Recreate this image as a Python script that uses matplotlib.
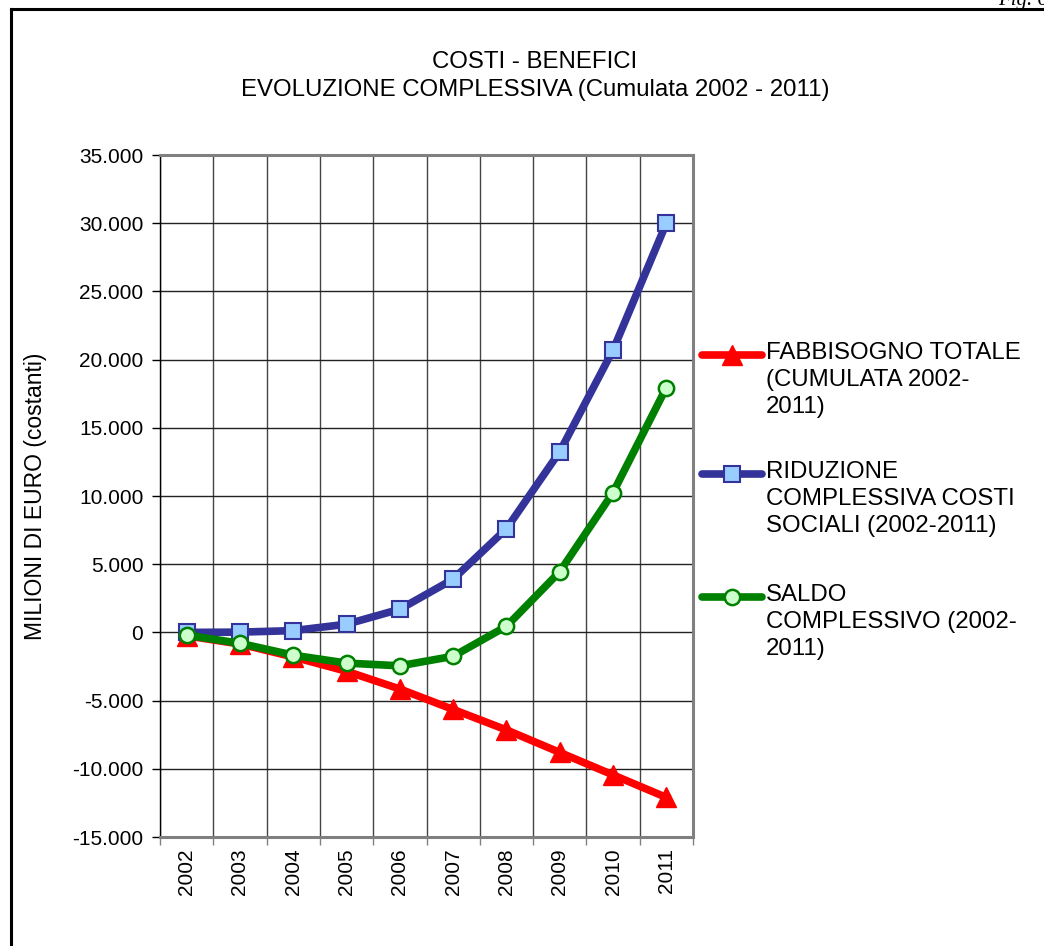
import numpy as np
import matplotlib
matplotlib.use("Agg")
import matplotlib.pyplot as plt
from matplotlib.lines import Line2D

plt.rcParams['font.family'] = ['Liberation Sans', 'DejaVu Sans']

# Data (milioni di euro, cumulata)
anni = ['2002', '2003', '2004', '2005', '2006', '2007', '2008', '2009', '2010', '2011']
fabbisogno = [-250, -850, -1800, -2850, -4150, -5650, -7150, -8800, -10450, -12100]
riduzione = [0, 20, 130, 600, 1700, 3900, 7600, 13250, 20700, 30000]
saldo = [-200, -800, -1670, -2250, -2450, -1750, 450, 4450, 10250, 17950]

labels = ['FABBISOGNO TOTALE\n(CUMULATA 2002-\n2011)',
          'RIDUZIONE\nCOMPLESSIVA COSTI\nSOCIALI (2002-2011)',
          'SALDO\nCOMPLESSIVO (2002-\n2011)']

W, H = 1044, 946
fig = plt.figure(figsize=(W / 100, H / 100), dpi=100)
ax = fig.add_axes([160 / W, 1 - 837 / H, (693 - 160) / W, (837 - 155) / H])

x = np.arange(len(anni))
styles = [
    dict(color='#FF0000', marker='^', markersize=14, markerfacecolor='#FF0000', markeredgecolor='#FF0000'),
    dict(color='#333399', marker='s', markersize=11, markerfacecolor='#99CCFF', markeredgecolor='#333399', markeredgewidth=1.5),
    dict(color='#008000', marker='o', markersize=11, markerfacecolor='#CCFFCC', markeredgecolor='#008000', markeredgewidth=1.8),
]
series = [fabbisogno, riduzione, saldo]
for vals, st in zip(series, styles):
    ax.plot(x, vals, linewidth=5.5, zorder=3, clip_on=False, **st)

ax.set_xlim(-0.5, len(anni) - 0.5)
ax.set_ylim(-15000, 35000)
yt = np.arange(-15000, 35001, 5000)
ax.set_yticks(yt)
ax.set_yticklabels([f"{v:,.0f}".replace(',', '.') for v in yt], fontsize=15)
ax.set_xticks(x)
ax.set_xticklabels(anni, rotation=90, fontsize=15)
ax.set_xticks(np.arange(-0.5, len(anni), 1), minor=True)
ax.tick_params(axis='x', which='major', length=0, pad=8)
ax.tick_params(axis='x', which='minor', length=6, width=1, color='#808080')
ax.tick_params(axis='y', length=6, width=1, pad=6)
ax.grid(axis='y', color='#222222', linewidth=1)
ax.grid(axis='x', which='minor', color='#444444', linewidth=1)
ax.set_axisbelow(True)
for s in ['top', 'right', 'bottom']:
    ax.spines[s].set_color('#808080')
    ax.spines[s].set_linewidth(2.2)
ax.spines['left'].set_color('black')
ax.spines['left'].set_linewidth(1)

ax.set_ylabel('MILIONI DI EURO (costanti)', fontsize=16.5)
ax.yaxis.set_label_coords((47 - 160) / (693 - 160), 0.5)

fig.text(535 / W, 1 - 62 / H, 'COSTI - BENEFICI', ha='center', va='center', fontsize=17.3)
fig.text(535 / W, 1 - 90 / H, 'EVOLUZIONE COMPLESSIVA (Cumulata 2002 - 2011)', ha='center', va='center', fontsize=17.3)

# legend drawn manually, handle on first text line
leg_y = [355, 474, 597]
for st, lab, yy in zip(styles, labels, leg_y):
    yf = 1 - yy / H
    fig.add_artist(Line2D([702 / W, 762 / W], [yf, yf], linewidth=5.5, color=st['color'],
                          solid_capstyle='round'))
    m = dict(st)
    m.pop('color')
    fig.add_artist(Line2D([732 / W], [yf], linestyle='none', **m))
    fig.text(766 / W, yf + 13 / H, lab, ha='left', va='top', fontsize=17.3, linespacing=1.3)

# page frame and figure number
fig.add_artist(Line2D([11 / W, 11 / W], [0, 1 - 9 / H], color='black', linewidth=2.2))
fig.add_artist(Line2D([11 / W, 1], [1 - 9 / H, 1 - 9 / H], color='black', linewidth=2.2))
fig.text(998 / W, 1 - 5 / H, 'Fig. 6', family='Liberation Serif', style='italic',
         fontsize=15, ha='left', va='baseline')

fig.savefig('out.png', dpi=100)
